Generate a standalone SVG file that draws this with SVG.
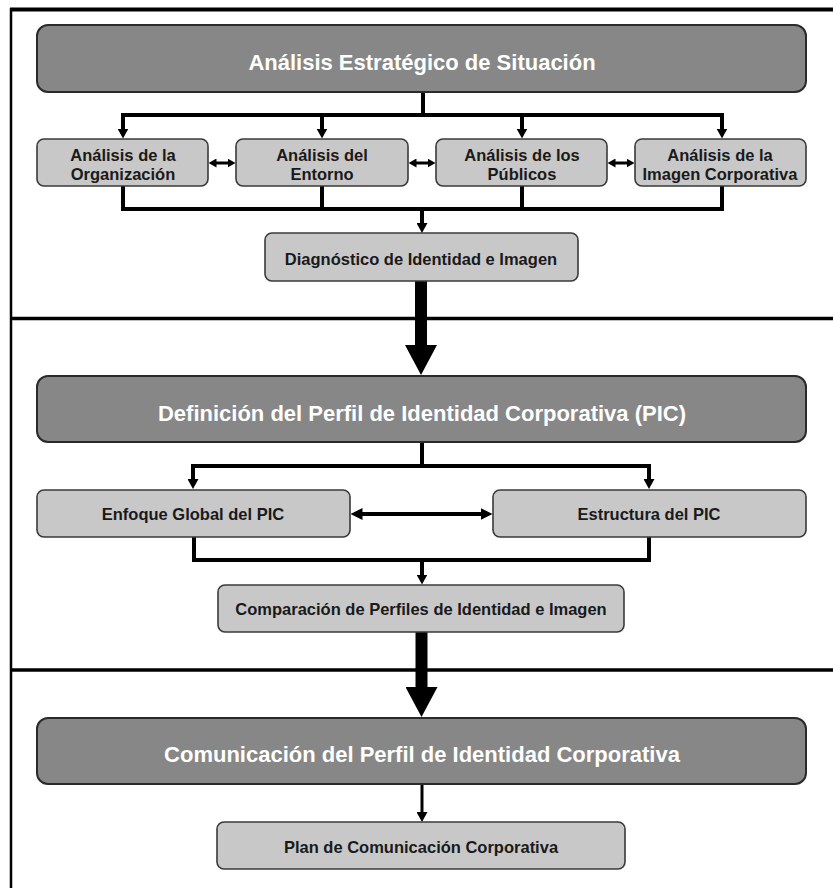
<svg xmlns="http://www.w3.org/2000/svg" width="833" height="888" viewBox="0 0 833 888">
<style>
  .frame { stroke: #000; fill: none; }
  .title { fill: #878787; stroke: #2a2a2a; stroke-width: 2; }
  .box { fill: #c8c8c9; stroke: #3a3a3a; stroke-width: 1.6; }
  .tt { font-family: "Liberation Sans", Arial, sans-serif; font-weight: bold; font-size: 22px; fill: #fff; text-anchor: middle; }
  .bt { font-family: "Liberation Sans", Arial, sans-serif; font-weight: bold; font-size: 16.5px; fill: #1a1a1a; text-anchor: middle; }
  .ln { stroke: #000; stroke-width: 4; fill: none; }
  .ln3 { stroke: #000; stroke-width: 3; fill: none; }
  .big { stroke: #000; stroke-width: 12; fill: none; }
</style>
<defs>
  <marker id="arr" markerUnits="userSpaceOnUse" markerWidth="10" markerHeight="11" viewBox="0 0 10 11" refX="0.5" refY="5.5" orient="auto">
    <path d="M0,0 L10,5.5 L0,11 Z" fill="#000"/>
  </marker>
  <marker id="arrS" markerUnits="userSpaceOnUse" markerWidth="8" markerHeight="9" viewBox="0 0 8 9" refX="0.5" refY="4.5" orient="auto-start-reverse">
    <path d="M0,0 L8,4.5 L0,9 Z" fill="#000"/>
  </marker>
  <marker id="arrM" markerUnits="userSpaceOnUse" markerWidth="12" markerHeight="12" viewBox="0 0 12 12" refX="0.5" refY="6" orient="auto-start-reverse">
    <path d="M0,0 L12,6 L0,12 Z" fill="#000"/>
  </marker>
  <marker id="arrB" markerUnits="userSpaceOnUse" markerWidth="30" markerHeight="32" viewBox="0 0 30 32" refX="0.5" refY="16" orient="auto">
    <path d="M0,0 L30,16 L0,32 Z" fill="#000"/>
  </marker>
</defs>

<g id="frame">
  <line class="frame" x1="11" y1="8" x2="11" y2="888" stroke-width="2.5"/>
  <line class="frame" x1="10" y1="9.5" x2="833" y2="9.5" stroke-width="4"/>
  <line class="frame" x1="10" y1="318.5" x2="833" y2="318.5" stroke-width="3.5"/>
  <line class="frame" x1="10" y1="670" x2="833" y2="670" stroke-width="3.5"/>
</g>

<g id="connectors">
  <!-- Section 1 -->
  <path class="ln" d="M423,92 V115"/>
  <path class="ln" d="M123,115 H722"/>
  <path class="ln" d="M123,113 V129" marker-end="url(#arr)"/>
  <path class="ln" d="M322,115 V129" marker-end="url(#arr)"/>
  <path class="ln" d="M522,115 V129" marker-end="url(#arr)"/>
  <path class="ln" d="M722,113 V129" marker-end="url(#arr)"/>
  <path class="ln3" d="M216,163 H228" marker-start="url(#arrS)" marker-end="url(#arrS)"/>
  <path class="ln3" d="M416,163 H428" marker-start="url(#arrS)" marker-end="url(#arrS)"/>
  <path class="ln3" d="M615,163 H627" marker-start="url(#arrS)" marker-end="url(#arrS)"/>
  <path class="ln" d="M123,186 V209 H722 V186"/>
  <path class="ln" d="M322,186 V209"/>
  <path class="ln" d="M522,186 V209"/>
  <path class="ln" d="M422,209 V223.5" marker-end="url(#arr)"/>
  <path class="big" d="M421,281 V345.5" marker-end="url(#arrB)"/>
  <!-- Section 2 -->
  <path class="ln" d="M422,442 V466"/>
  <path class="ln" d="M193,466 H649"/>
  <path class="ln" d="M193,464 V479.5" marker-end="url(#arr)"/>
  <path class="ln" d="M649,464 V479.5" marker-end="url(#arr)"/>
  <path class="ln" d="M362,514 H481" marker-start="url(#arrM)" marker-end="url(#arrM)"/>
  <path class="ln" d="M194,537 V560 H649 V537"/>
  <path class="ln" d="M422,560 V575" marker-end="url(#arr)"/>
  <path class="big" d="M421.5,632 V687.5" marker-end="url(#arrB)"/>
  <!-- Section 3 -->
  <path class="ln3" d="M422,784 V812.5" marker-end="url(#arr)"/>
</g>

<g id="n-analisis-estrategico">
  <rect class="title" x="37" y="25" width="769" height="67" rx="11"/>
  <text class="tt" x="422" y="70">Análisis Estratégico de Situación</text>
</g>
<g id="n-organizacion">
  <rect class="box" x="37" y="139" width="171" height="47" rx="7"/>
  <text class="bt" x="123" y="161">Análisis de la</text>
  <text class="bt" x="123" y="180">Organización</text>
</g>
<g id="n-entorno">
  <rect class="box" x="236" y="139" width="172" height="47" rx="7"/>
  <text class="bt" x="322" y="161">Análisis del</text>
  <text class="bt" x="322" y="180">Entorno</text>
</g>
<g id="n-publicos">
  <rect class="box" x="436" y="139" width="171" height="47" rx="7"/>
  <text class="bt" x="522" y="161">Análisis de los</text>
  <text class="bt" x="522" y="180">Públicos</text>
</g>
<g id="n-imagen">
  <rect class="box" x="635" y="139" width="171" height="47" rx="7"/>
  <text class="bt" x="720" y="161">Análisis de la</text>
  <text class="bt" x="720" y="180">Imagen Corporativa</text>
</g>
<g id="n-diagnostico">
  <rect class="box" x="265" y="233" width="313" height="48" rx="7"/>
  <text class="bt" x="421" y="265">Diagnóstico de Identidad e Imagen</text>
</g>

<g id="n-definicion">
  <rect class="title" x="37" y="376" width="769" height="66" rx="11"/>
  <text class="tt" x="422" y="421">Definición del Perfil de Identidad Corporativa (PIC)</text>
</g>
<g id="n-enfoque">
  <rect class="box" x="37" y="490" width="313" height="47" rx="7"/>
  <text class="bt" x="193" y="520">Enfoque Global del PIC</text>
</g>
<g id="n-estructura">
  <rect class="box" x="493" y="490" width="313" height="47" rx="7"/>
  <text class="bt" x="649" y="520">Estructura del PIC</text>
</g>
<g id="n-comparacion">
  <rect class="box" x="218" y="585" width="406" height="47" rx="7"/>
  <text class="bt" x="421" y="615">Comparación de Perfiles de Identidad e Imagen</text>
</g>

<g id="n-comunicacion">
  <rect class="title" x="37" y="718" width="769" height="66" rx="11"/>
  <text class="tt" x="422" y="762">Comunicación del Perfil de Identidad Corporativa</text>
</g>
<g id="n-plan">
  <rect class="box" x="217" y="822" width="408" height="47" rx="7"/>
  <text class="bt" x="421" y="853">Plan de Comunicación Corporativa</text>
</g>
</svg>
